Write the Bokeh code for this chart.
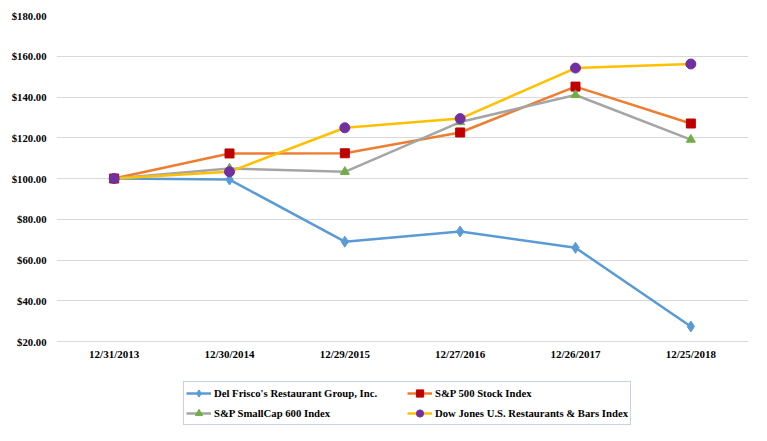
from bokeh.plotting import figure
from bokeh.models import Legend, LegendItem, FactorRange, Range1d, NumeralTickFormatter, ColumnDataSource
from bokeh.embed import file_html
from bokeh.resources import INLINE

dates = ["12/31/2013", "12/30/2014", "12/29/2015", "12/27/2016", "12/26/2017", "12/25/2018"]
del_frisco = [100.0, 99.5, 69.0, 74.0, 66.0, 27.4]
sp500 = [100.0, 112.3, 112.4, 122.6, 145.1, 127.0]
smallcap = [100.0, 104.9, 103.3, 127.7, 141.0, 119.1]
dow_rest = [100.0, 103.3, 124.9, 129.4, 154.2, 156.2]
y_ticks = [20, 40, 60, 80, 100, 120, 140, 160, 180]

FONT = "Liberation Serif"

# frame spans page y 15..425; $180 at top, $20 gridline ~84px above frame bottom
p = figure(width=751, height=425, x_range=FactorRange(*dates), y_range=Range1d(-21.2, 180),
           output_backend="svg", toolbar_location=None,
           min_border_left=56, min_border_right=3, min_border_top=15, min_border_bottom=0)
p.outline_line_color = None
p.xgrid.grid_line_color = None
p.ygrid.grid_line_color = "#d9d9d9"
p.ygrid.grid_line_width = 1.2
p.yaxis.ticker = y_ticks
p.yaxis.formatter = NumeralTickFormatter(format="$0.00")
p.xaxis.fixed_location = 20
for ax in (p.xaxis[0], p.yaxis[0]):
    ax.axis_line_color = None
    ax.major_tick_line_color = None
    ax.minor_tick_line_color = None
    ax.major_tick_in = 0
    ax.major_tick_out = 0
    ax.major_label_text_font = FONT
    ax.major_label_text_font_style = "bold"
    ax.major_label_text_font_size = "11px"
    ax.major_label_text_color = "#000000"
p.yaxis.major_label_text_font_size = "10.7px"
p.yaxis.major_label_standoff = 10
p.xaxis.major_label_standoff = 6

series = [
    ("Del Frisco's Restaurant Group, Inc.", del_frisco, "#5B9BD5", "#5B9BD5", "diamond", 11),
    ("S&P 500 Stock Index", sp500, "#ED7D31", "#C00000", "square", 9),
    ("S&P SmallCap 600 Index", smallcap, "#A5A5A5", "#70AD47", "triangle", 9),
    ("Dow Jones U.S. Restaurants & Bars Index", dow_rest, "#FFC000", "#7030A0", "circle", 10),
]
items = {}
for name, vals, lc, mc, marker, size in series:
    src = ColumnDataSource(dict(x=dates, y=vals))
    l = p.line("x", "y", source=src, line_color=lc, line_width=2.5)
    s = p.scatter("x", "y", source=src, marker=marker, size=size, fill_color=mc, line_color=mc)
    items[name] = LegendItem(label=name, renderers=[l, s])

order = ["Del Frisco's Restaurant Group, Inc.", "S&P SmallCap 600 Index",
         "S&P 500 Stock Index", "Dow Jones U.S. Restaurants & Bars Index"]
legend = Legend(items=[items[k] for k in order], ncols=2, location=(127, 0),
                label_text_font=FONT, label_text_font_style="bold", label_text_font_size="10.7px",
                label_text_color="#000000", glyph_width=25, glyph_height=18, label_height=18,
                label_width=191, label_standoff=3, spacing=2, padding=2, margin=0,
                border_line_color="#8FA8CA", border_line_width=1, background_fill_alpha=1)
p.add_layout(legend, "center")

open("out.html", "w").write(file_html(p, INLINE))
